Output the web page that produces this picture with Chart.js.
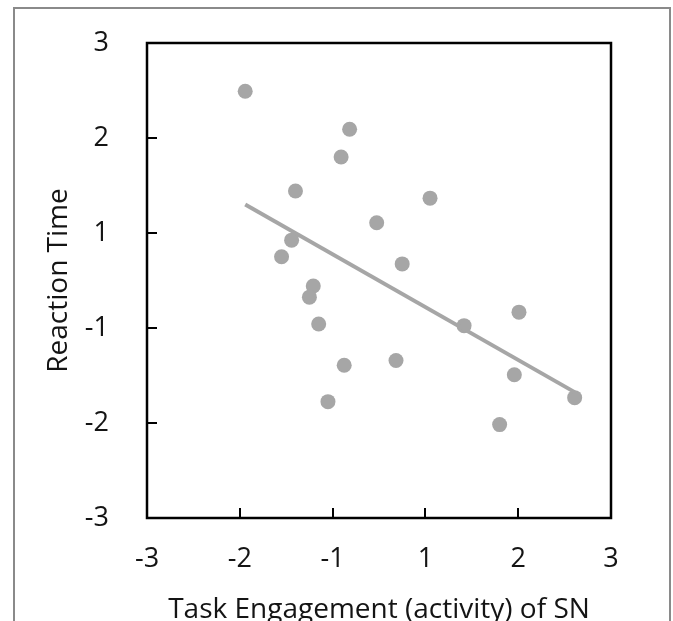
<!DOCTYPE html>
<html>
<head>
<meta charset="utf-8">
<title>Reaction Time vs Task Engagement</title>
<script src="https://cdn.jsdelivr.net/npm/chart.js@4.4.1/dist/chart.umd.min.js"></script>
<style>
  html, body { margin: 0; padding: 0; background: #fff; overflow: hidden; }
  #wrap { position: relative; width: 673px; height: 621px; }
  #frame {
    position: absolute; left: 13px; top: 7px; width: 658px; height: 700px;
    box-sizing: border-box; border: 2px solid #8a8a8a; pointer-events: none;
  }
</style>
</head>
<body>
<div id="wrap">
  <canvas id="chart" width="673" height="621"></canvas>
  <div id="frame"></div>
</div>
<script>
// Data (axis units, ticks are evenly spaced)
const engagement = [-1.73, -0.38, -0.49, -1.08, -0.03, 0.66, -1.13, -1.26, 0.30, -0.85,
                    -0.90, -0.78, 1.10, 1.81, -0.45, 0.22, 1.75, -0.66, 1.56, 2.53];
const reaction   = [2.39, 1.91, 1.56, 1.13, 0.73, 1.04, 0.51, 0.30, 0.21, -0.07,
                    -0.21, -0.55, -0.57, -0.40, -1.07, -1.01, -1.19, -1.53, -1.82, -1.48];

// Fitted line end points
const trendX = [-1.73, 2.53];
const trendY = [0.96, -1.41];

// Tick positions and their printed labels (original has no 0)
const tickPos    = [-3, -1.8, -0.6, 0.6, 1.8, 3];
const xTickLabels = ['-3', '-2', '-1', '1', '2', '3'];
const yTickLabels = ['-3', '-2', '-1', '1', '2', '3'];

const GREY = '#a6a6a6';
const INK  = '#141414';
const FONT = "'Open Sans', sans-serif";

// box round the plot area
const framePlugin = {
  id: 'frame',
  afterDatasetsDraw(chart) {
    const a = chart.chartArea, ctx = chart.ctx;
    ctx.save();
    ctx.strokeStyle = '#000';
    ctx.lineWidth = 2.5;
    ctx.strokeRect(a.left, a.top, a.right - a.left, a.bottom - a.top);
    ctx.restore();
  }
};

const axisBase = (labels, padding) => ({
  type: 'linear',
  min: -3, max: 3,
  border: { display: false },
  grid: { drawOnChartArea: false, drawTicks: true, tickLength: -10, color: '#000', lineWidth: 2 },
  afterBuildTicks: s => { s.ticks = tickPos.map(v => ({ value: v })); },
  ticks: {
    autoSkip: false, maxRotation: 0, padding,
    color: INK, font: { family: FONT, size: 27 },
    callback: (v, i) => labels[i]
  }
});

// fixed axis sizes; drop the label overhang padding so layout.padding rules
const xAxis = axisBase(xTickLabels, 35);
xAxis.afterFit = s => { s.height = 103; s.paddingLeft = 0; s.paddingRight = 0; };
xAxis.title = { display: true, text: 'Task Engagement (activity) of SN', color: INK,
  font: { family: FONT, size: 28, lineHeight: 1 }, padding: { top: 0, bottom: -3 } };

const yAxis = axisBase(yTickLabels, 48);
yAxis.afterFit = s => { s.width = 147; s.paddingTop = 0; s.paddingBottom = 0; };
yAxis.title = { display: true, text: 'Reaction Time', color: INK,
  font: { family: FONT, size: 28, lineHeight: 1.2 }, padding: { top: 42, bottom: 0 } };

new Chart(document.getElementById('chart'), {
  type: 'scatter',
  data: {
    datasets: [
      {
        label: 'Trend',
        type: 'line',
        data: trendX.map((x, i) => ({ x, y: trendY[i] })),
        borderColor: GREY, borderWidth: 4, pointRadius: 0, fill: false
      },
      {
        label: 'Subjects',
        data: engagement.map((x, i) => ({ x, y: reaction[i] })),
        backgroundColor: GREY, borderWidth: 0, pointRadius: 7.5, pointHoverRadius: 7.5
      }
    ]
  },
  options: {
    responsive: false, animation: false,
    layout: { padding: { left: 0, top: 43, right: 62, bottom: 0 } },
    plugins: { legend: { display: false }, tooltip: { enabled: false } },
    scales: { x: xAxis, y: yAxis }
  },
  plugins: [framePlugin]
});
</script>
</body>
</html>
